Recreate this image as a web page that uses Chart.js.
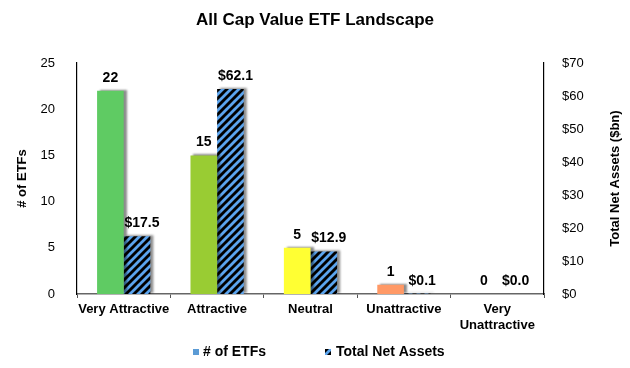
<!DOCTYPE html>
<html>
<head>
<meta charset="utf-8">
<script src="https://cdn.jsdelivr.net/npm/chart.js@4/dist/chart.umd.min.js"></script>
<style>
html,body{margin:0;padding:0;background:#fff;}
#wrap{width:630px;height:368px;position:relative;}
</style>
</head>
<body>
<div id="wrap"><canvas id="c" width="630" height="368"></canvas></div>
<script>
const categories = ["Very Attractive", "Attractive", "Neutral", "Unattractive", ["Very", "Unattractive"]];
const etfCounts = [22, 15, 5, 1, 0];
const netAssets = [17.5, 62.1, 12.9, 0.1, 0.0];
const etfLabels = ["22", "15", "5", "1", "0"];
const assetLabels = ["$17.5", "$62.1", "$12.9", "$0.1", "$0.0"];
const countTicks = [0, 5, 10, 15, 20, 25];
const assetTicks = [0, 10, 20, 30, 40, 50, 60, 70];
const barColors = ["#5fcb63", "#99cc33", "#ffff33", "#ff9966", "#e8534f"];
const chartTitle = "All Cap Value ETF Landscape";
const seriesNames = ["# of ETFs", "Total Net Assets"];
const rightAxisTitle = "Total Net Assets ($bn)";

const FONT = "'Liberation Sans', Arial, sans-serif";

function makeHatch() {
  const s = 8;
  const p = document.createElement('canvas');
  p.width = s; p.height = s;
  const g = p.getContext('2d');
  g.fillStyle = '#000';
  g.fillRect(0, 0, s, s);
  g.strokeStyle = '#5ba4ee';
  g.lineWidth = 2.8;
  g.beginPath();
  g.moveTo(0, s); g.lineTo(s, 0);
  g.moveTo(-s/2, s/2); g.lineTo(s/2, -s/2);
  g.moveTo(s/2, s*1.5); g.lineTo(s*1.5, s/2);
  g.stroke();
  return g.createPattern(p, 'repeat');
}
const ctx0 = document.getElementById('c').getContext('2d');
const hatch = makeHatch();

const shadowPlugin = {
  id: 'shadow',
  beforeDatasetsDraw(chart) {
    const c = chart.ctx;
    c.save();
    c.shadowColor = 'rgba(0,0,0,0.45)';
    c.shadowBlur = 2;
    c.shadowOffsetX = 3;
    c.shadowOffsetY = -1;
  },
  afterDatasetsDraw(chart) {
    chart.ctx.restore();
  }
};

const labelPlugin = {
  id: 'vlabels',
  afterDatasetsDraw(chart) {
    const c = chart.ctx;
    c.save();
    c.font = "bold 14px " + FONT;
    c.fillStyle = '#000';
    c.textAlign = 'center';
    c.textBaseline = 'bottom';
    [etfLabels, assetLabels].forEach((labs, di) => {
      const meta = chart.getDatasetMeta(di);
      meta.data.forEach((bar, i) => {
        c.fillText(labs[i], bar.x + (di === 1 ? 5 : 0), bar.y - 6);
      });
    });
    c.restore();
  }
};

const decorPlugin = {
  id: 'decor',
  afterDraw(chart) {
    const c = chart.ctx;
    c.save();
    c.fillStyle = '#000';
    c.font = "bold 17px " + FONT;
    c.textAlign = 'center';
    c.textBaseline = 'middle';
    c.fillText(chartTitle, 315, 20);
    // right axis title, reading bottom-to-top
    const a = chart.chartArea;
    c.save();
    c.translate(615, (a.top + a.bottom) / 2);
    c.rotate(-Math.PI / 2);
    c.font = "bold 13px " + FONT;
    c.fillText(rightAxisTitle, 0, 0);
    c.restore();
    // legend
    const ly = 352;
    c.font = "bold 14px " + FONT;
    c.textAlign = 'left';
    c.fillStyle = '#5b9bd5';
    c.fillRect(193, ly - 3, 6, 6);
    c.fillStyle = '#000';
    c.fillText(seriesNames[0], 203, ly);
    c.fillStyle = hatch;
    c.fillRect(325, ly - 3, 6, 6);
    c.fillStyle = '#000';
    c.fillText(seriesNames[1], 336, ly);
    c.restore();
  }
};

new Chart(ctx0, {
  type: 'bar',
  data: {
    labels: categories,
    datasets: [
      { label: seriesNames[0], data: etfCounts, backgroundColor: barColors, yAxisID: 'y', barPercentage: 1.0, categoryPercentage: 0.57 },
      { label: seriesNames[1], data: netAssets, backgroundColor: hatch, yAxisID: 'y1', barPercentage: 1.0, categoryPercentage: 0.57 }
    ]
  },
  options: {
    responsive: false,
    animation: false,
    layout: { padding: { top: 63, bottom: 34, left: 0, right: 0 } },
    plugins: { legend: { display: false }, title: { display: false }, tooltip: { enabled: false } },
    scales: {
      x: {
        grid: { display: true, drawOnChartArea: false, drawTicks: true, tickLength: 4, color: '#555', offset: true },
        border: { display: true, color: '#666', width: 1.5 },
        ticks: { color: '#000', font: { family: FONT, size: 13, weight: 'bold' }, maxRotation: 0, autoSkip: false, padding: 4 },
        afterFit(s) { s.height = 40; }
      },
      y: {
        position: 'left',
        min: 0, max: 25,
        afterBuildTicks(s) { s.ticks = countTicks.map(v => ({ value: v })); },
        grid: { display: false },
        border: { display: true, color: '#000', width: 1.2 },
        ticks: { color: '#000', font: { family: FONT, size: 13 }, padding: 14 },
        title: { display: true, text: seriesNames[0], color: '#000', font: { family: FONT, size: 13, weight: 'bold' }, padding: { top: 15, bottom: 0 } },
        afterFit(s) { s.width = 77; }
      },
      y1: {
        position: 'right',
        min: 0, max: 70,
        afterBuildTicks(s) { s.ticks = assetTicks.map(v => ({ value: v })); },
        grid: { display: false },
        border: { display: true, color: '#000', width: 1.2 },
        ticks: { color: '#000', font: { family: FONT, size: 13 }, padding: 10, callback: v => '$' + v },
        title: { display: false },
        afterFit(s) { s.width = 86; }
      }
    }
  },
  plugins: [shadowPlugin, labelPlugin, decorPlugin]
});
</script>
</body>
</html>
